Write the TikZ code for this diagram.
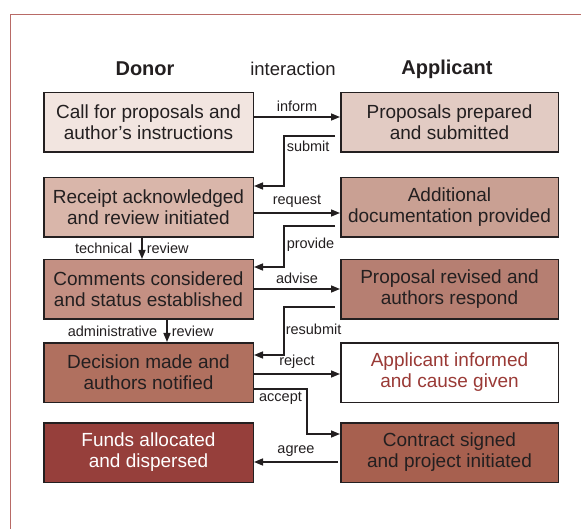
\documentclass[tikz,border=0pt]{standalone}
\usepackage{fontspec}
\setmainfont{Liberation Sans}
\usetikzlibrary{arrows.meta}
\definecolor{ink}{HTML}{231F20}
\definecolor{frame}{HTML}{B86A66}
\definecolor{fillA}{HTML}{F2E5E0}
\definecolor{fillB}{HTML}{D9B6AA}
\definecolor{fillC}{HTML}{C49083}
\definecolor{fillD}{HTML}{B0705F}
\definecolor{fillE}{HTML}{963F3B}
\definecolor{fillF}{HTML}{E2CBC3}
\definecolor{fillG}{HTML}{C9A093}
\definecolor{fillH}{HTML}{B67F72}
\definecolor{fillK}{HTML}{A7604F}
\definecolor{redtext}{HTML}{9A3A36}
\newcommand{\LeftX}{148.5}
\newcommand{\RightX}{449.5}

\begin{document}
\begin{tikzpicture}[x=1pt,y=-1pt,
	box/.style={draw=ink,line width=1.5pt,minimum height=59.5pt,align=center,text=ink,inner sep=0pt,font=\fontsize{19}{21}\selectfont},
	leftbox/.style={box,minimum width=209.5pt},
	rightbox/.style={box,minimum width=217.5pt},
	link/.style={draw=ink,line width=1.5pt,-{Triangle[length=9pt,width=7pt]}},
	lbl/.style={text=ink,inner sep=2pt,font=\fontsize{14.5}{16}\selectfont}]
		\useasboundingbox (0,0) rectangle (581,529);
		\clip (0,0) rectangle (581,529);
		\draw[frame,line width=0.9pt] (10.5,14) rectangle (620,570);% outer frame

		% column heads
		\node[text=ink,font=\bfseries\fontsize{20}{24}\selectfont] (donor) at (145,69) {Donor};
		\node[text=ink,font=\fontsize{18.5}{22}\selectfont] (inter) at (293,69) {interaction};
		\node[text=ink,font=\bfseries\fontsize{20}{24}\selectfont] (applicant) at (447,69) {Applicant};

		% donor side
		\node[leftbox,fill=fillA] (L1) at (\LeftX,122.5) {Call for proposals and\\author’s instructions};
		\node[leftbox,fill=fillB] (L2) at (\LeftX,207.5) {Receipt acknowledged\\and review initiated};
		\node[leftbox,fill=fillC] (L3) at (\LeftX,289.5) {Comments considered\\and status established};
		\node[leftbox,fill=fillD] (L4) at (\LeftX,372.5) {Decision made and\\authors notified};
		\node[leftbox,fill=fillE,text=white] (L5) at (\LeftX,452.5) {Funds allocated\\and dispersed};

		% applicant side
		\node[rightbox,fill=fillF] (R1) at (\RightX,122.5) {Proposals prepared\\and submitted};
		\node[rightbox,fill=fillG] (R2) at (\RightX,207.5) {Additional\\documentation provided};
		\node[rightbox,fill=fillH] (R3) at (\RightX,289.5) {Proposal revised and\\authors respond};
		\node[rightbox,fill=white,text=redtext] (R4) at (\RightX,372.5) {Applicant informed\\and cause given};
		\node[rightbox,fill=fillK] (R5) at (\RightX,452.5) {Contract signed\\and project initiated};

		% interactions
		\draw[link] ([yshift=5.5pt]L1.east) -- node[lbl,above,inner sep=5pt] {inform} ([yshift=5.5pt]R1.west);
		\draw[link] ([xshift=-5pt,yshift=-13.5pt]R1.west) -- ++(-51,0) |- node[lbl,right,pos=0.1] {submit} ([yshift=21.5pt]L2.east);
		\draw[link] ([yshift=-5.5pt]L2.east) -- node[lbl,above,inner sep=5pt] {request} ([yshift=-5.5pt]R2.west);
		\draw[link] ([xshift=-5pt,yshift=-18.5pt]R2.west) -- ++(-51,0) |- node[lbl,right,pos=0.23] {provide} ([yshift=22.5pt]L3.east);
		\draw[link] ([yshift=0.5pt]L3.east) -- node[lbl,above,inner sep=5pt] {advise} ([yshift=0.5pt]R3.west);
		\draw[link] ([xshift=-5pt,yshift=-17.5pt]R3.west) -- ++(-51,0) |- node[lbl,right,pos=0.23,inner sep=1pt] {resubmit} ([yshift=17.5pt]L4.east);
		\draw[link] ([yshift=-1.5pt]L4.east) -- node[lbl,above,inner sep=5pt] {reject} ([yshift=-1.5pt]R4.west);
		\draw[link] ([yshift=-16.5pt]L4.east) -- node[lbl,below] {accept} ++(53,0) |- ([yshift=18.5pt]R5.west);
		\draw[link] ([xshift=-2pt,yshift=-9.5pt]R5.west) -- node[lbl,above,inner sep=5pt] {agree} ([yshift=-9.5pt]L5.east);

		% reviews
		\draw[link] ([xshift=-6.5pt]L2.south) -- node[lbl,left,inner sep=9pt] {technical} node[lbl,right,inner sep=4pt] {review} ([xshift=-6.5pt]L3.north);
		\draw[link] ([xshift=18.5pt]L3.south) -- node[lbl,left,inner sep=9pt] {administrative} node[lbl,right,inner sep=4pt] {review} ([xshift=18.5pt]L4.north);
	\end{tikzpicture}
\end{document}
